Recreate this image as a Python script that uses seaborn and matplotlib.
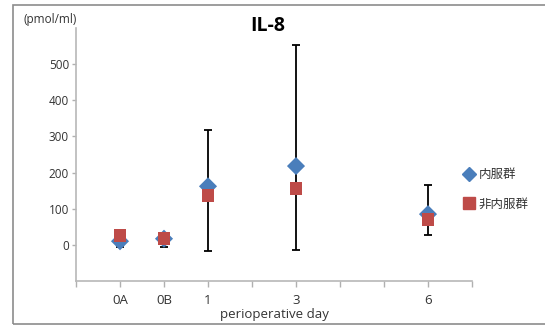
import matplotlib
matplotlib.use("Agg")
import matplotlib.pyplot as plt
import seaborn as sns
import pandas as pd
from matplotlib.patches import Rectangle
from matplotlib.lines import Line2D

sns.set_theme(style="white")
plt.rcParams['font.family'] = ['Open Sans', 'Noto Sans CJK JP', 'DejaVu Sans']

# data
day_labels = ["0A", "0B", "1", "3", "6"]
day_pos = [1, 2, 3, 5, 8]
series_names = ["内服群", "非内服群"]
oral_vals = [10, 17, 162, 218, 85]
non_oral_vals = [25, 17, 137, 157, 71]
err_low = [-7, -7, -16, -14, 27]
err_high = [25, 17, 319, 552, 165]

df = pd.DataFrame({
    "pos": day_pos + day_pos,
    "value": oral_vals + non_oral_vals,
    "group": [series_names[0]] * len(day_pos) + [series_names[1]] * len(day_pos),
})

fig = plt.figure(figsize=(5.45, 3.27), dpi=100)
ax = fig.add_axes([76 / 545, 1 - 281 / 327, (472 - 76) / 545, (281 - 28) / 327])

# error bars (behind markers)
yerr = [[v - lo for v, lo in zip(oral_vals, err_low)],
        [hi - v for v, hi in zip(oral_vals, err_high)]]
ax.errorbar(day_pos, oral_vals, yerr=yerr, fmt="none", ecolor="black",
            elinewidth=1.3, capsize=3, capthick=1.3, zorder=1)

palette = {series_names[0]: "#4A7EBB", series_names[1]: "#BE4B48"}
markers = {series_names[0]: "D", series_names[1]: "s"}
sns.scatterplot(data=df, x="pos", y="value", hue="group", style="group",
                palette=palette, markers=markers, s=85, linewidth=0,
                ax=ax, zorder=3, legend=False)

ax.set_xlim(0, 9)
ax.set_ylim(-100, 600)
ax.set_xticks(range(0, 10))
xlabels = [""] * 10
for p, l in zip(day_pos, day_labels):
    xlabels[p] = l
ax.set_xticklabels(xlabels, fontsize=9.5, color="#333333")
ax.set_yticks([0, 100, 200, 300, 400, 500])
ax.set_yticklabels(["0", "100", "200", "300", "400", "500"], fontsize=8.5, color="#333333")
ax.tick_params(axis="x", direction="out", length=4, width=1, color="#b0b0b0",
               bottom=True, pad=5)
ax.tick_params(axis="y", direction="out", length=3, width=1, color="#b0b0b0",
               left=True, pad=2)
ax.set_xlabel("perioperative day", fontsize=9.5, color="#333333", labelpad=1)
ax.set_ylabel("")
for s in ["top", "right"]:
    ax.spines[s].set_visible(False)
for s in ["left", "bottom"]:
    ax.spines[s].set_color("#b8b8b8")
    ax.spines[s].set_linewidth(1.2)

fig.text(268 / 545, 1 - 26 / 327, "IL-8", fontsize=14, fontweight="bold",
         ha="center", va="center", color="black")
fig.text(23 / 545, 1 - 20 / 327, "(pmol/ml)", fontsize=8.5, ha="left",
         va="center", color="#333333")

# legend
handles = [Line2D([], [], marker=markers[n], color=palette[n], linestyle="none",
                  markersize=7 if markers[n] == "D" else 9) for n in series_names]
fig.legend(handles, series_names, loc="upper left",
           bbox_to_anchor=(456 / 545, 1 - 162 / 327), frameon=False,
           fontsize=9, handlelength=1.0, handletextpad=0.3, labelspacing=1.3,
           borderpad=0, labelcolor="#333333")

# outer border
fig.patches.append(Rectangle((13 / 545, 3 / 327), 1.0, 1 - 8 / 327,
                             transform=fig.transFigure, fill=False,
                             edgecolor="#8c8c8c", linewidth=1.2))

fig.savefig("out.png", dpi=100)
